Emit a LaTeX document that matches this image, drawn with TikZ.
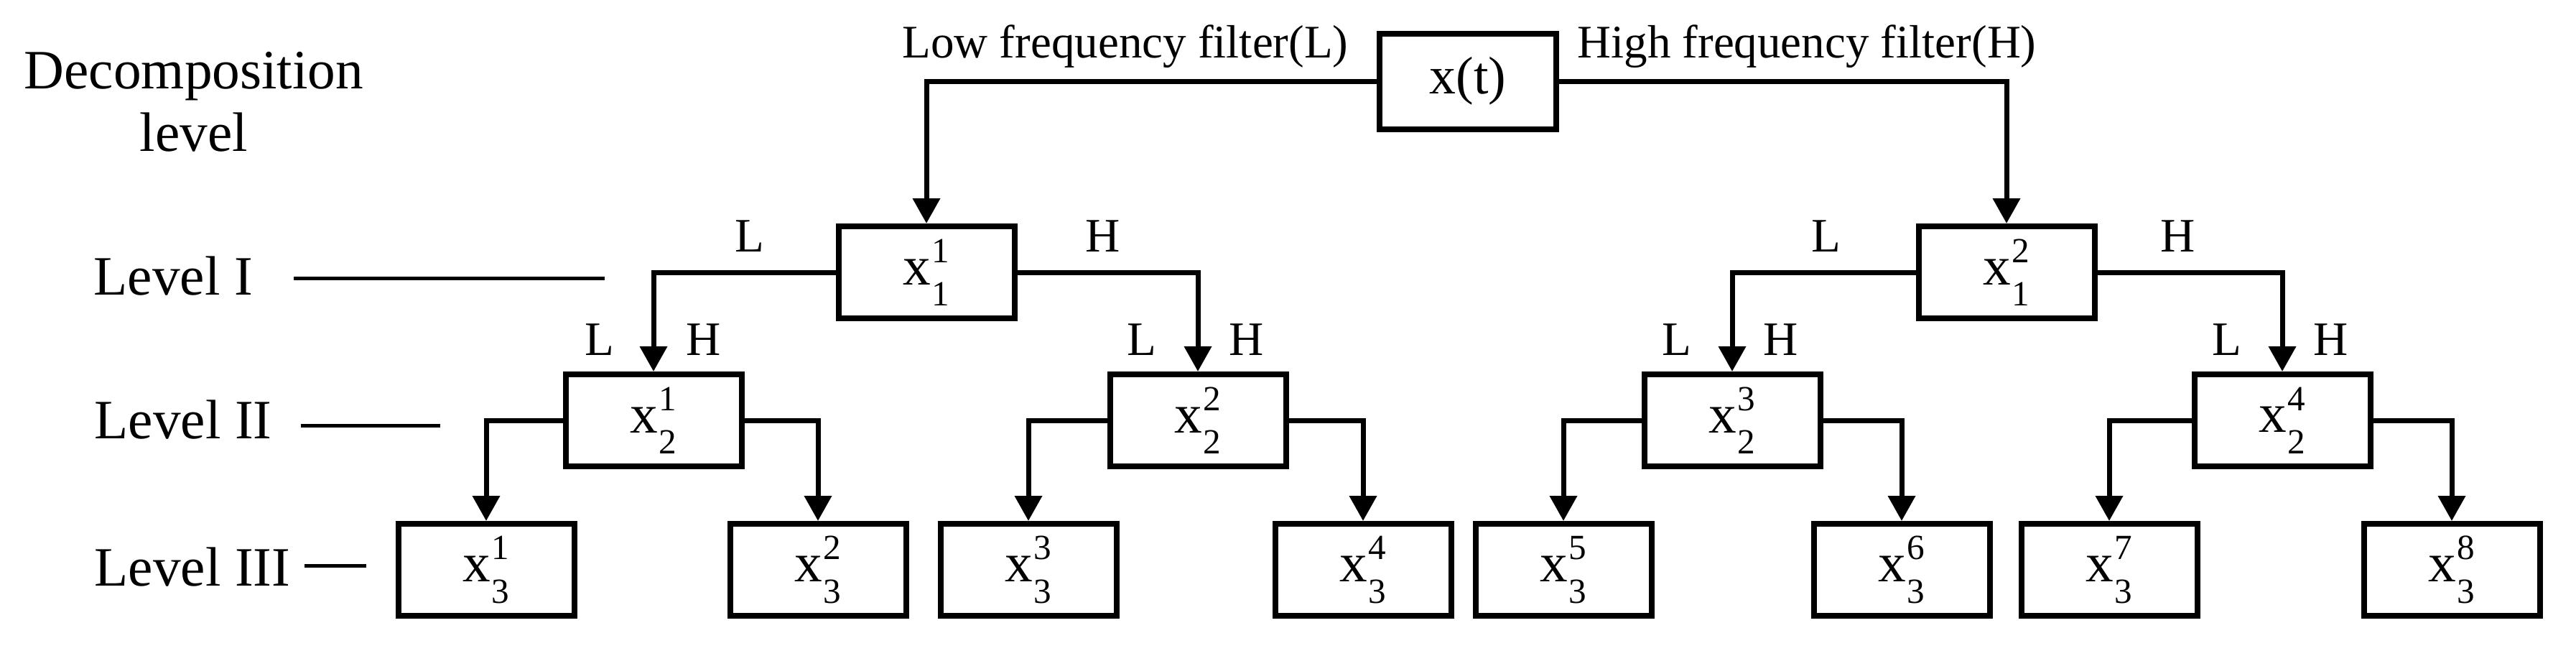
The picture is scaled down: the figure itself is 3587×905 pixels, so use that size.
\documentclass[tikz,border=0pt]{standalone}
\usepackage{fontspec}
\setmainfont{Liberation Serif}
\usetikzlibrary{arrows.meta}
\newcommand\xsub[2]{x\rlap{\kern0.02em\raisebox{0.40em}{\fontsize{14}{14}\selectfont #1}}\kern0.02em\raisebox{-0.38em}{\fontsize{14}{14}\selectfont #2}}
\tikzset{
  box/.style={draw=black, line width=0.8mm, fill=white, minimum width=24.5mm, minimum height=12.8mm, inner sep=0pt, font=\fontsize{22}{22}\selectfont},
  conn/.style={line width=0.7mm, -{Triangle[length=3.5mm,width=3.7mm]}},
  lab/.style={font=\fontsize{19}{19}\selectfont, anchor=base, inner sep=0pt},
  toplab/.style={font=\fontsize{18.5}{18.5}\selectfont, anchor=base, inner sep=0pt},
  lvl/.style={font=\fontsize{22}{22}\selectfont, anchor=base west, inner sep=0pt},
  lvlline/.style={line width=0.5mm},
}
\begin{document}
\begin{tikzpicture}[x=0.1mm,y=-0.1mm]
\useasboundingbox (0,0) rectangle (3587,905);
% left labels
\node[font=\fontsize{22}{22}\selectfont, anchor=base, inner sep=0pt] (dec) at (270,123) {Decomposition};
\node[font=\fontsize{22}{22}\selectfont, anchor=base, inner sep=0pt] (declev) at (270,210) {level};
\node[lvl] (lv1) at (130,410) {Level I};
\node[lvl] (lv2) at (131,610) {Level II};
\node[lvl] (lv3) at (131,815) {Level III};
\coordinate (a1) at (409,387); \coordinate (b1) at (842,387);
\coordinate (a2) at (419,592); \coordinate (b2) at (613,592);
\coordinate (a3) at (424,787); \coordinate (b3) at (510,787);
\draw[lvlline] (a1) -- (b1);
\draw[lvlline] (a2) -- (b2);
\draw[lvlline] (a3) -- (b3);
% nodes
\node[box, minimum width=24.6mm, minimum height=13.3mm, font=\fontsize{21}{21}\selectfont] (xt) at (2044,113) {x(t)};
\node[box] (x11) at (1290,379) {\xsub{1}{1}};
\node[box] (x12) at (2794,379) {\xsub{2}{1}};
\node[box] (x21) at (910,585) {\xsub{1}{2}};
\node[box] (x22) at (1668,585) {\xsub{2}{2}};
\node[box] (x23) at (2412,585) {\xsub{3}{2}};
\node[box] (x24) at (3178,585) {\xsub{4}{2}};
\node[box] (x31) at (677,793) {\xsub{1}{3}};
\node[box] (x32) at (1139,793) {\xsub{2}{3}};
\node[box] (x33) at (1432,793) {\xsub{3}{3}};
\node[box] (x34) at (1898,793) {\xsub{4}{3}};
\node[box] (x35) at (2177,793) {\xsub{5}{3}};
\node[box] (x36) at (2648,793) {\xsub{6}{3}};
\node[box] (x37) at (2937,793) {\xsub{7}{3}};
\node[box] (x38) at (3414,793) {\xsub{8}{3}};
% top labels
\node[toplab] (tl) at (1567,80) {Low frequency filter(L)};
\node[toplab] (th) at (2516,80) {High frequency filter(H)};
% connectors
\draw[conn] (xt.west) -| (x11.north);
\draw[conn] (xt.east) -| (x12.north);
\draw[conn] (x11.west) -| (x21.north);
\draw[conn] (x11.east) -| (x22.north);
\draw[conn] (x12.west) -| (x23.north);
\draw[conn] (x12.east) -| (x24.north);
\draw[conn] (x21.west) -| (x31.north);
\draw[conn] (x21.east) -| (x32.north);
\draw[conn] (x22.west) -| (x33.north);
\draw[conn] (x22.east) -| (x34.north);
\draw[conn] (x23.west) -| (x35.north);
\draw[conn] (x23.east) -| (x36.north);
\draw[conn] (x24.west) -| (x37.north);
\draw[conn] (x24.east) -| (x38.north);
% L/H labels level 1
\node[lab] (l11) at (1044,350) {L};
\node[lab] (h11) at (1536,350) {H};
\node[lab] (l12) at (2543,350) {L};
\node[lab] (h12) at (3033,350) {H};
% L/H labels level 2
\node[lab] (l21) at (835,494) {L};
\node[lab] (h21) at (980,494) {H};
\node[lab] (l22) at (1590,494) {L};
\node[lab] (h22) at (1736,494) {H};
\node[lab] (l23) at (2335,494) {L};
\node[lab] (h23) at (2480,494) {H};
\node[lab] (l24) at (3101,494) {L};
\node[lab] (h24) at (3246,494) {H};
\end{tikzpicture}
\end{document}
